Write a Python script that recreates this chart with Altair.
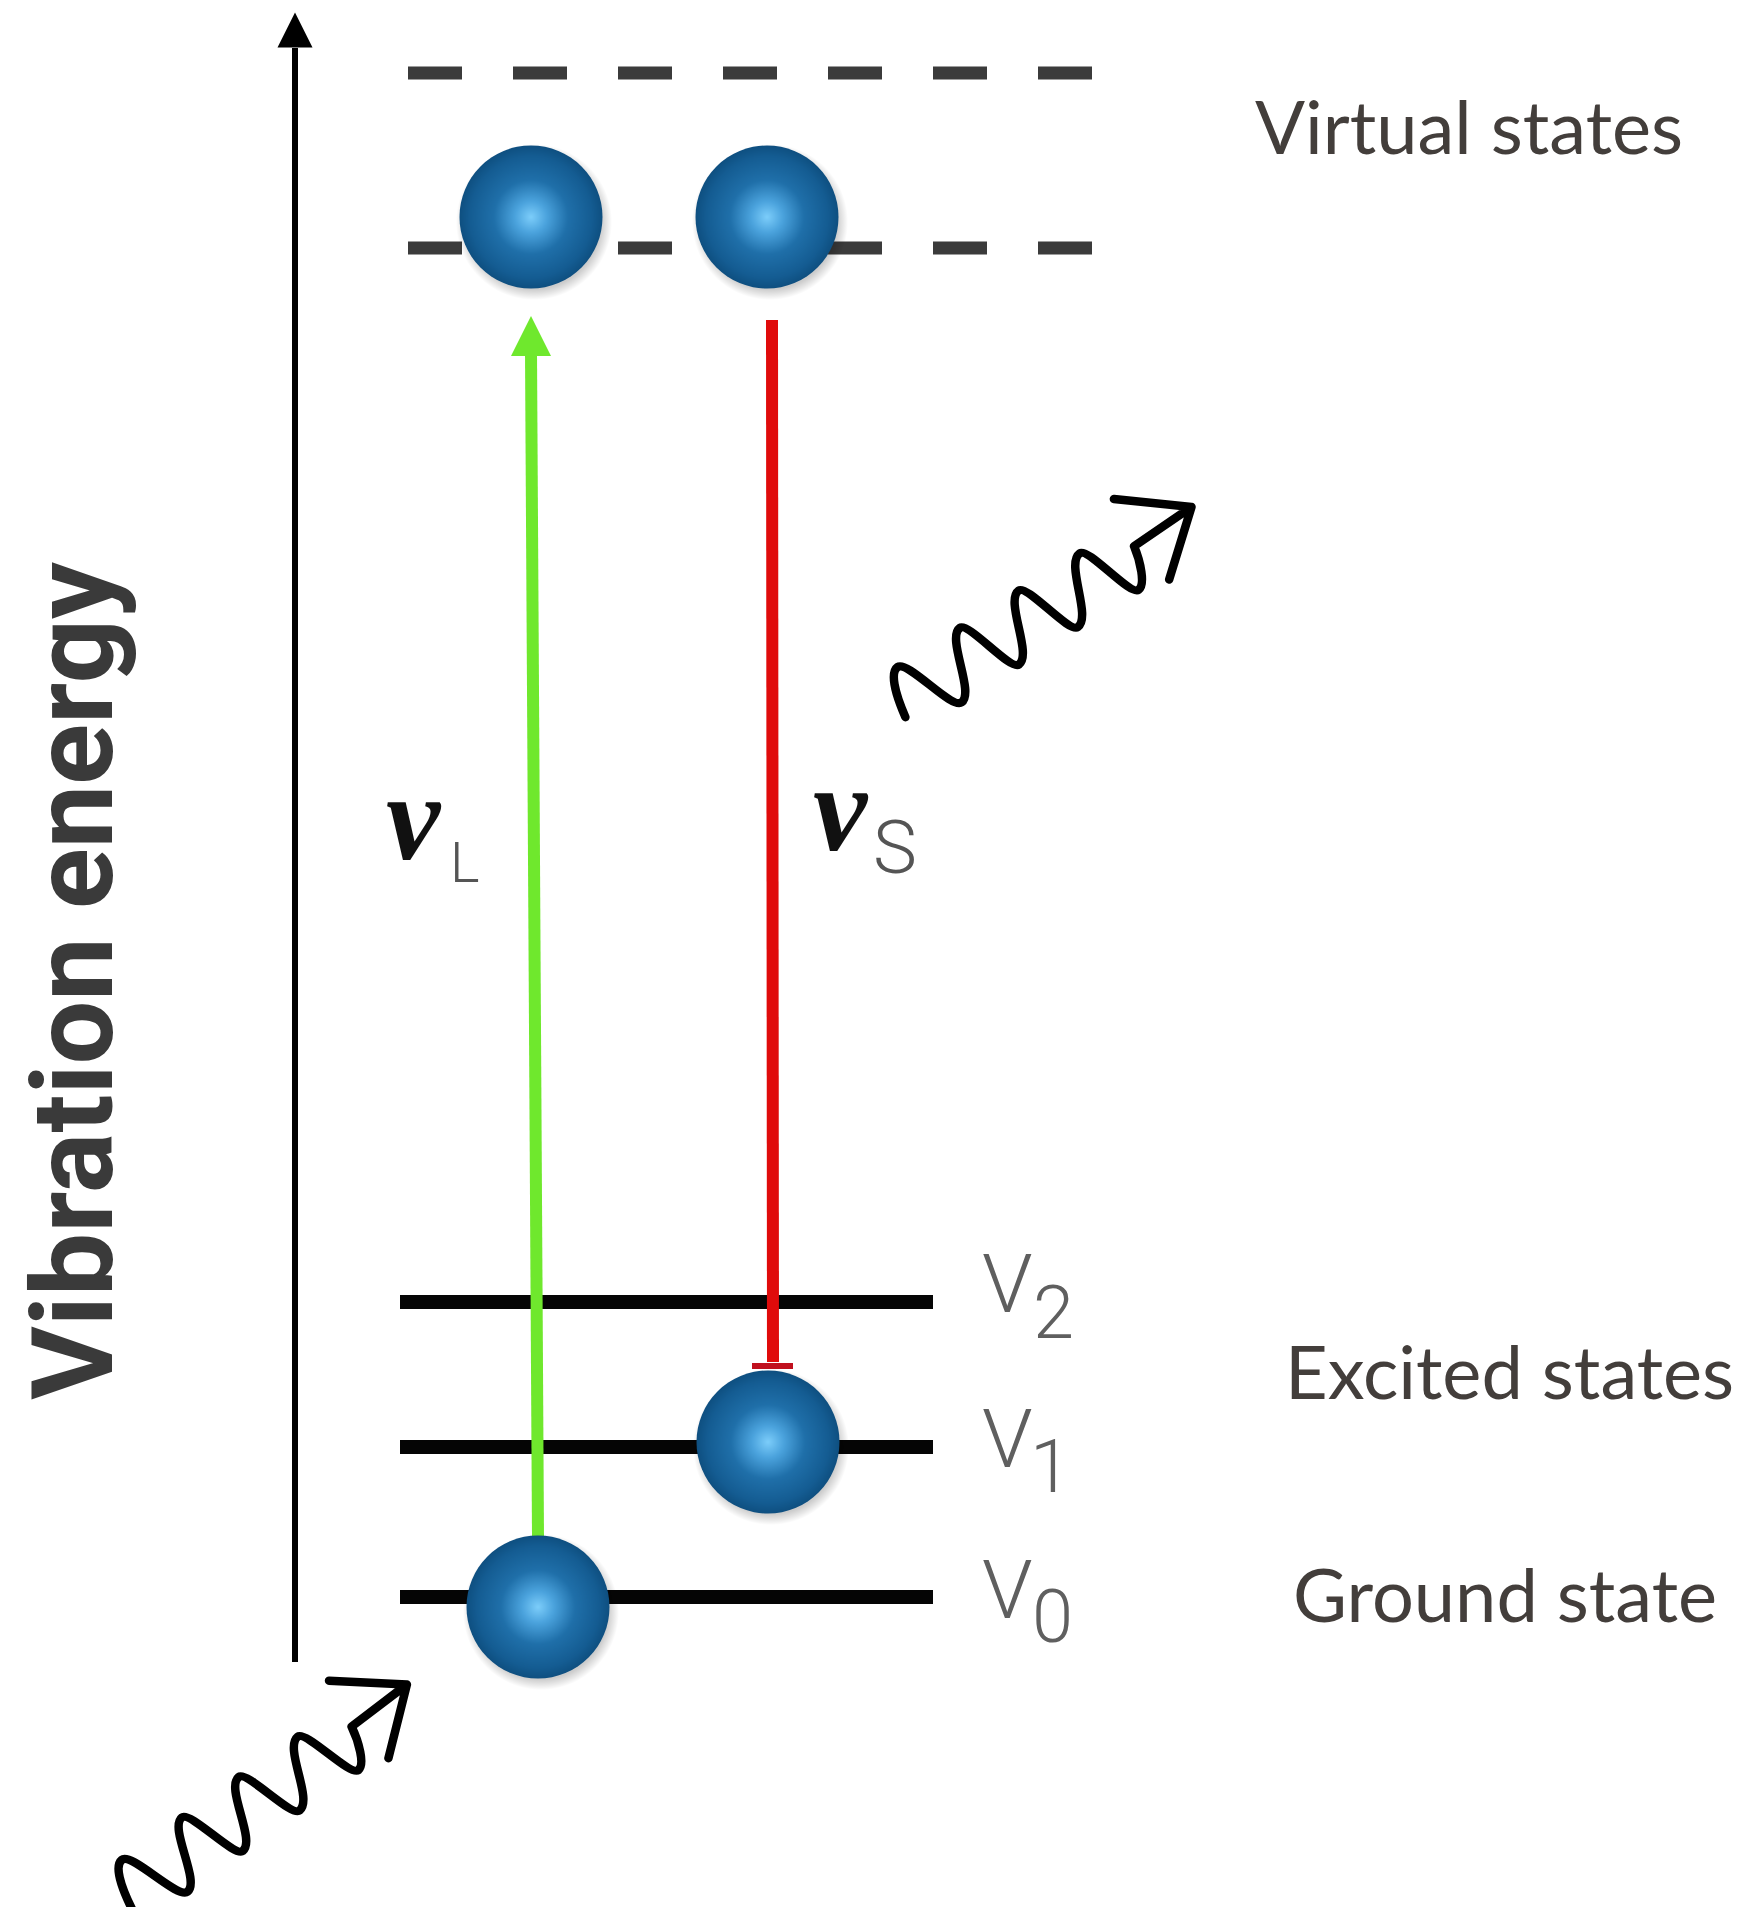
import altair as alt
import pandas as pd

# ---------------- data (page pixel coordinates) ----------------
PAGE_W, PAGE_H, MARGIN = 1742, 1915, 8

# energy axis arrow
axis_x = [295]
axis_y_bottom = [1662]
axis_y_top = [48]
axis_head_y = [30]

# virtual states (dashed)
virtual_y = [73, 248]
virtual_x0 = [408, 408]
virtual_x1 = [1094, 1094]

# vibrational levels V0, V1, V2 (solid)
level_sub = ["0", "1", "2"]
level_y = [1597, 1447, 1302]
level_x0 = [400, 400, 400]
level_x1 = [933, 933, 933]
label_v_y = [1618, 1467, 1312]
label_sub_x = [1032, 1030, 1033]
label_sub_y = [1642, 1492, 1338]

# molecules (balls)
ball_x = [531, 767, 538, 768]
ball_y = [217, 217, 1607, 1442]

# laser (green) and Stokes (red) transitions
green_x = [538]
green_y = [1537]
green_x2 = [531]
green_y2 = [352]
green_head = ([531], [336])
red_x = [772]
red_y = [320]
red_x2 = [773]
red_y2 = [1362]
red_tee_x = [752]
red_tee_x2 = [793]
red_tee_y = [1366]

# photon (wavy) arrows: centre and direction
wave_cx = [1047, 268]
wave_cy = [610, 1795]
wave_angle = [324.5, 321.5]

# texts
state_text = ["Virtual states", "Excited states", "Ground state"]
state_x = [1255, 1285, 1293]
state_y = [154, 1399, 1622]

nu_x = [386, 813]
nu_y = [859, 850]
nu_sub = ["L", "S"]
nu_sub_x = [450, 873]
nu_sub_y = [882, 873]
nu_sub_size = [56, 74]

# ---------------- scales: data units = page pixels ----------------
W = PAGE_W - 2 * MARGIN
H = PAGE_H - 2 * MARGIN
xs = alt.Scale(domain=[MARGIN, PAGE_W - MARGIN], nice=False, zero=False)
ys = alt.Scale(domain=[MARGIN, PAGE_H - MARGIN], nice=False, zero=False, reverse=True)


def X(f):
    return alt.X(f, type="quantitative", scale=xs, axis=None)


def Y(f):
    return alt.Y(f, type="quantitative", scale=ys, axis=None)


# ---------------- shapes (styles) ----------------
TRI = "M0,-1L1,1L-1,1Z"

AMP = 1.4
wave_pts = [(-1.0, 0.02), (-0.872, -0.162), (-0.694, 0.103), (-0.459, -0.145), (-0.307, 0.113),
            (-0.067, -0.130), (0.085, 0.128), (0.335, -0.109), (0.486, 0.148), (0.608, -0.006)]


def wave_path(pts, k=0.4):
    pts = [(x, y * AMP) for x, y in pts]
    d = f"M{pts[0][0]:.3f},{pts[0][1]:.3f}"
    n = len(pts) - 1
    for i, ((x0, y0), (x1, y1)) in enumerate(zip(pts[:-1], pts[1:])):
        dx = (x1 - x0) * k
        if i == 0:
            c1 = (x0 + (x1 - x0) * 0.25, y0 + (y1 - y0) * 0.6)
        else:
            c1 = (x0 + dx, y0)
        if i == n - 1:
            c2 = (x1 - 0.02, y1 + 0.09)
        else:
            c2 = (x1 - dx, y1)
        d += f"C{c1[0]:.3f},{c1[1]:.3f} {c2[0]:.3f},{c2[1]:.3f} {x1:.3f},{y1:.3f}"
    d += "L1,0M0.67,-0.29L1,0L0.66,0.26"
    return d


WAVE = wave_path(wave_pts)

ball_grad = alt.Gradient(
    gradient="radial",
    stops=[alt.GradientStop(offset=0, color="#7ccdfa"),
           alt.GradientStop(offset=0.22, color="#4ba3dd"),
           alt.GradientStop(offset=0.52, color="#1f6fa9"),
           alt.GradientStop(offset=0.85, color="#145c92"),
           alt.GradientStop(offset=1, color="#0e4f80")],
    x1=0.5, y1=0.5, r1=0, x2=0.5, y2=0.5, r2=0.5)

shadow_grad = alt.Gradient(
    gradient="radial",
    stops=[alt.GradientStop(offset=0, color="rgba(0,0,0,0.28)"),
           alt.GradientStop(offset=0.86, color="rgba(0,0,0,0.2)"),
           alt.GradientStop(offset=1, color="rgba(0,0,0,0)")],
    x1=0.5, y1=0.5, r1=0, x2=0.5, y2=0.5, r2=0.5)

BALL_D = 143
SHADOW_D = 156

# ---------------- layers ----------------
axis_df = pd.DataFrame({"x": axis_x, "y": axis_y_bottom, "x2": axis_x, "y2": axis_y_top})
axis_rule = alt.Chart(axis_df).mark_rule(color="black", strokeWidth=6).encode(
    x=X("x"), y=Y("y"), x2="x2", y2="y2")
axis_head = alt.Chart(pd.DataFrame({"x": axis_x, "y": axis_head_y})).mark_point(
    shape=TRI, filled=True, color="black", size=35 * 35, opacity=1).encode(x=X("x"), y=Y("y"))

virt_df = pd.DataFrame({"x": virtual_x0, "x2": virtual_x1, "y": virtual_y})
virt = alt.Chart(virt_df).mark_rule(color="#3b3b3b", strokeWidth=13, strokeDash=[54, 51]).encode(
    x=X("x"), x2="x2", y=Y("y"))

lev_df = pd.DataFrame({"x": level_x0, "x2": level_x1, "y": level_y})
levels = alt.Chart(lev_df).mark_rule(color="#050505", strokeWidth=14).encode(
    x=X("x"), x2="x2", y=Y("y"))

green_df = pd.DataFrame({"x": green_x, "y": green_y, "x2": green_x2, "y2": green_y2})
green = alt.Chart(green_df).mark_rule(color="#6fe82d", strokeWidth=12).encode(
    x=X("x"), y=Y("y"), x2="x2", y2="y2")
green_h = alt.Chart(pd.DataFrame({"x": green_head[0], "y": green_head[1]})).mark_point(
    shape=TRI, filled=True, color="#6fe82d", size=40 * 40, opacity=1).encode(x=X("x"), y=Y("y"))

red_df = pd.DataFrame({"x": red_x, "y": red_y, "x2": red_x2, "y2": red_y2})
red = alt.Chart(red_df).mark_rule(color="#e00b0b", strokeWidth=12).encode(
    x=X("x"), y=Y("y"), x2="x2", y2="y2")
red_tee = alt.Chart(pd.DataFrame({"x": red_tee_x, "x2": red_tee_x2, "y": red_tee_y})).mark_rule(
    color="#c0101e", strokeWidth=6).encode(x=X("x"), x2="x2", y=Y("y"))

balls_df = pd.DataFrame({"x": ball_x, "y": ball_y})
shadows = alt.Chart(balls_df).transform_calculate(
    sx="datum.x + 3", sy="datum.y + 5").mark_circle(
    fill=shadow_grad, size=SHADOW_D * SHADOW_D, opacity=1).encode(x=X("sx"), y=Y("sy"))
balls = alt.Chart(balls_df).mark_circle(
    fill=ball_grad, size=BALL_D * BALL_D, opacity=1).encode(x=X("x"), y=Y("y"))

wave_df = pd.DataFrame({"x": wave_cx, "y": wave_cy, "a": wave_angle})
waves = alt.Chart(wave_df).mark_point(
    shape=WAVE, filled=False, color="black", strokeWidth=8.5, size=355 * 355, opacity=1,
    strokeCap="round", strokeJoin="round").encode(
    x=X("x"), y=Y("y"), angle=alt.Angle("a", type="quantitative", scale=None))

state_df = pd.DataFrame({"t": state_text, "x": state_x, "y": state_y})
states = alt.Chart(state_df).mark_text(
    font="Lato", fontSize=74, color="#433e3b", align="left", baseline="alphabetic").encode(
    x=X("x"), y=Y("y"), text="t")

v_df = pd.DataFrame({"t": ["V"] * 3, "x": [982] * 3, "y": label_v_y})
v_lab = alt.Chart(v_df).mark_text(
    font="Roboto", fontWeight=300, fontSize=82, color="#5f5f5f", align="left",
    baseline="alphabetic").encode(x=X("x"), y=Y("y"), text="t")
vs_df = pd.DataFrame({"t": level_sub, "x": label_sub_x, "y": label_sub_y})
v_sub = alt.Chart(vs_df).mark_text(
    font="Roboto", fontWeight=300, fontSize=74, color="#5f5f5f", align="left",
    baseline="alphabetic").encode(x=X("x"), y=Y("y"), text="t")

nu_df = pd.DataFrame({"t": ["\u03bd", "\u03bd"], "x": nu_x, "y": nu_y})
nu = alt.Chart(nu_df).mark_text(
    font="Liberation Serif", fontStyle="italic", fontWeight="bold", fontSize=122,
    color="#111111", align="left", baseline="alphabetic").encode(x=X("x"), y=Y("y"), text="t")
nus_df = pd.DataFrame({"t": nu_sub, "x": nu_sub_x, "y": nu_sub_y, "s": nu_sub_size})
nu_s = alt.Chart(nus_df).mark_text(
    font="Roboto", fontWeight=300, color="#555555", align="left", baseline="alphabetic").encode(
    x=X("x"), y=Y("y"), text="t", size=alt.Size("s", type="quantitative", scale=None, legend=None))

ylab_df = pd.DataFrame({"t": ["Vibration energy"], "x": [112], "y": [1400]})
ylab = alt.Chart(ylab_df).mark_text(
    font="Roboto", fontWeight="bold", fontSize=113, color="#3a3a3a", angle=270,
    align="left", baseline="alphabetic").encode(x=X("x"), y=Y("y"), text="t")

chart = alt.layer(
    axis_rule, axis_head, virt, levels, green, green_h, red, red_tee,
    shadows, balls, waves, states, v_lab, v_sub, nu, nu_s, ylab
).properties(
    width=W, height=H, padding=0, autosize=alt.AutoSizeParams(type="none"),
    background="white"
).configure_view(stroke=None)

chart.save("out.html", embed_options={"renderer": "svg", "actions": False})
